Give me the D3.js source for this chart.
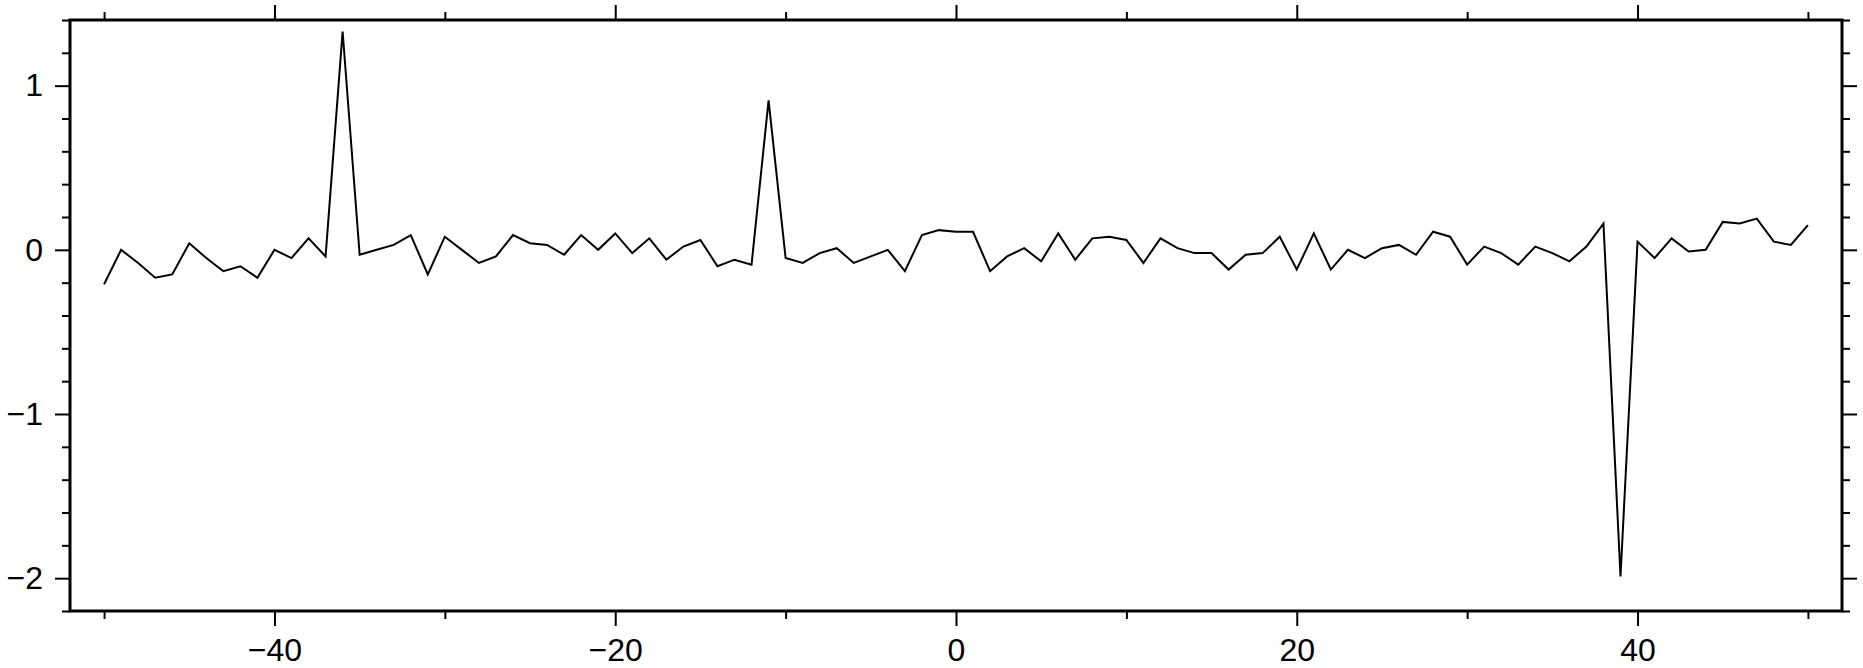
<!DOCTYPE html>
<html>
<head>
<meta charset="utf-8">
<script src="https://cdn.jsdelivr.net/npm/d3@7"></script>
<style>
  body { margin: 0; background: #fff; }
  .axis text { font-family: "Liberation Sans", Arial, Helvetica, sans-serif; font-size: 32px; fill: #000; }
  .axis path { display: none; }
  .axis line { stroke: #000; stroke-width: 2px; }
</style>
</head>
<body>
<div id="viz"></div>
<script>
var W = 1863, H = 668;
var margin = {top: 20, right: 21, bottom: 57, left: 70};
var width = W - margin.left - margin.right,
    height = H - margin.top - margin.bottom;

// data
var xs = [-50,-49,-48,-47,-46,-45,-44,-43,-42,-41,
          -40,-39,-38,-37,-36,-35,-34,-33,-32,-31,
          -30,-29,-28,-27,-26,-25,-24,-23,-22,-21,
          -20,-19,-18,-17,-16,-15,-14,-13,-12,-11,
          -10,-9,-8,-7,-6,-5,-4,-3,-2,-1,
          0,1,2,3,4,5,6,7,8,9,
          10,11,12,13,14,15,16,17,18,19,
          20,21,22,23,24,25,26,27,28,29,
          30,31,32,33,34,35,36,37,38,39,
          40,41,42,43,44,45,46,47,48,49,50];
var ys = [-0.21,0.00,-0.08,-0.17,-0.15,0.04,-0.05,-0.13,-0.10,-0.17,
          0.00,-0.05,0.07,-0.04,1.33,-0.03,0.00,0.03,0.09,-0.15,
          0.08,0.00,-0.08,-0.04,0.09,0.04,0.03,-0.03,0.09,0.00,
          0.10,-0.02,0.07,-0.06,0.02,0.06,-0.10,-0.06,-0.09,0.91,
          -0.05,-0.08,-0.02,0.01,-0.08,-0.04,0.00,-0.13,0.09,0.12,
          0.11,0.11,-0.13,-0.04,0.01,-0.07,0.10,-0.06,0.07,0.08,
          0.06,-0.08,0.07,0.01,-0.02,-0.02,-0.12,-0.03,-0.02,0.08,
          -0.12,0.10,-0.12,0.00,-0.05,0.01,0.03,-0.03,0.11,0.08,
          -0.09,0.02,-0.02,-0.09,0.02,-0.02,-0.07,0.02,0.16,-1.99,
          0.05,-0.05,0.07,-0.01,0.00,0.17,0.16,0.19,0.05,0.03,0.15];

var xMajor = [-40, -20, 0, 20, 40];
var xMinor = [-50, -30, -10, 10, 30, 50];
var yMajor = [-2, -1, 0, 1];
var yMinor = [-2.2, -1.8, -1.6, -1.4, -1.2, -0.8, -0.6, -0.4, -0.2,
              0.2, 0.4, 0.6, 0.8, 1.2, 1.4];

var data = xs.map(function(x, i) { return {x: x, y: ys[i]}; });

var svg = d3.select("#viz").append("svg")
    .attr("width", W)
    .attr("height", H)
    .append("g")
    .attr("transform", "translate(" + margin.left + "," + margin.top + ")");

var xScale = d3.scaleLinear().domain([-52, 52]).range([0, width]);
var yScale = d3.scaleLinear().domain([-2.2, 1.4]).range([height, 0]);

var fmt = d3.format("d");

// ticks: major (labelled on bottom/left), minor on all four sides
function addAxis(axisFn, scale, values, size, labels, transform) {
    var ax = axisFn(scale).tickValues(values).tickSize(size).tickPadding(12)
        .tickFormat(labels ? fmt : "");
    svg.append("g")
        .attr("class", "axis")
        .attr("transform", transform)
        .call(ax);
}

addAxis(d3.axisBottom, xScale, xMajor, 15, true, "translate(0," + height + ")");
addAxis(d3.axisBottom, xScale, xMinor, 8, false, "translate(0," + height + ")");
addAxis(d3.axisTop, xScale, xMajor, 15, false, "translate(0,0)");
addAxis(d3.axisTop, xScale, xMinor, 8, false, "translate(0,0)");
addAxis(d3.axisLeft, yScale, yMajor, 15, true, "translate(0,0)");
addAxis(d3.axisLeft, yScale, yMinor, 8, false, "translate(0,0)");
addAxis(d3.axisRight, yScale, yMajor, 15, false, "translate(" + width + ",0)");
addAxis(d3.axisRight, yScale, yMinor, 8, false, "translate(" + width + ",0)");

var line = d3.line()
    .x(function(d) { return xScale(d.x); })
    .y(function(d) { return yScale(d.y); });

svg.append("path")
    .datum(data)
    .attr("d", line)
    .attr("fill", "none")
    .attr("stroke", "#000")
    .attr("stroke-width", 2);

// frame
svg.append("rect")
    .attr("x", 0)
    .attr("y", 0)
    .attr("width", width)
    .attr("height", height)
    .attr("fill", "none")
    .attr("stroke", "#000")
    .attr("stroke-width", 3);
</script>
</body>
</html>
